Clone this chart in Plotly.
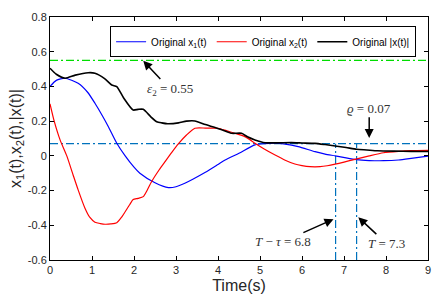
import plotly.graph_objects as go

# ---------------- data ----------------
t_x1 = [0, 0.15, 0.36, 0.67, 0.9, 1.07, 1.25, 1.39, 1.59, 1.79, 2.0, 2.14, 2.5, 2.82, 3.0, 3.21, 3.4,
        3.7, 4.0, 4.17, 4.5, 4.88, 5.1, 5.36, 5.6, 5.91, 6.31, 6.55, 6.79, 7.05, 7.3, 7.6, 7.94, 8.3, 8.6, 9.0]
x1 = [0.40, 0.435, 0.447, 0.418, 0.365, 0.303, 0.23, 0.168, 0.073, 0.0, -0.065, -0.10, -0.155, -0.183,
      -0.178, -0.158, -0.135, -0.095, -0.05, -0.024, 0.015, 0.063, 0.07, 0.073, 0.068, 0.053, 0.024, 0.01,
      0.0, -0.012, -0.022, -0.027, -0.028, -0.024, -0.015, -0.002]

t_x2 = [0, 0.1, 0.24, 0.4, 0.55, 0.67, 0.83, 0.95, 1.07, 1.2, 1.31, 1.45, 1.59, 1.7, 1.79, 1.9, 1.98,
        2.1, 2.22, 2.32, 2.42, 2.6, 2.74, 2.9, 3.06, 3.25, 3.45, 3.7, 4.0, 4.2, 4.4, 4.6, 4.75, 4.88, 5.1,
        5.36, 5.6, 5.83, 6.0, 6.19, 6.43, 6.6, 6.79, 7.0, 7.26, 7.6, 7.94, 8.3, 8.6, 9.0]
x2 = [0.30, 0.20, 0.092, 0.0, -0.11, -0.196, -0.30, -0.355, -0.382, -0.39, -0.394, -0.392, -0.385,
      -0.355, -0.322, -0.28, -0.252, -0.245, -0.235, -0.195, -0.148, -0.08, -0.033, 0.02, 0.07, 0.12,
      0.159, 0.16, 0.159, 0.145, 0.13, 0.115, 0.095, 0.073, 0.04, 0.005, -0.025, -0.047, -0.056, -0.062,
      -0.062, -0.057, -0.048, -0.036, -0.02, 0.0, 0.018, 0.026, 0.03, 0.032]

t_xn = [0, 0.15, 0.36, 0.6, 0.91, 1.07, 1.3, 1.47, 1.59, 1.75, 1.98, 2.1, 2.22, 2.4, 2.54, 2.66, 2.8,
        3.06, 3.25, 3.45, 3.7, 3.93, 4.15, 4.33, 4.56, 4.7, 4.88, 5.12, 5.4, 5.75, 6.0, 6.31, 6.55, 6.79,
        7.05, 7.3, 7.54, 7.8, 8.2, 8.6, 9.0]
xn = [0.505, 0.47, 0.447, 0.465, 0.479, 0.476, 0.445, 0.408, 0.399, 0.335, 0.264, 0.268, 0.268, 0.225,
      0.197, 0.19, 0.185, 0.19, 0.2, 0.201, 0.18, 0.163, 0.145, 0.13, 0.13, 0.11, 0.092, 0.076, 0.075,
      0.076, 0.074, 0.072, 0.065, 0.057, 0.048, 0.038, 0.034, 0.029, 0.027, 0.026, 0.025]

eps2 = 0.55
rho = 0.07
T_minus_tau = 6.8
T_end = 7.3

x_range = [0, 9]
y_range = [-0.6, 0.8]
x_ticks = [0, 1, 2, 3, 4, 5, 6, 7, 8, 9]
x_ticklabels = ["0", "1", "2", "3", "4", "5", "6", "7", "8", "9"]
y_ticks = [-0.6, -0.4, -0.2, 0, 0.2, 0.4, 0.6, 0.8]
y_ticklabels = ["-0.6", "-0.4", "-0.2", "0", "0.2", "0.4", "0.6", "0.8"]

# annotation: label text, label centre (x, y), arrow head (x, y)
ann_texts = ["<i>ε</i><sub>2</sub> = 0.55", "<i>ϱ</i> = 0.07", "<i>T</i> − <i>τ</i> = 6.8", "<i>T</i> = 7.3"]
ann_label_x = [2.85, 7.6, 5.55, 8.0]
ann_label_y = [0.385, 0.275, -0.494, -0.503]
ann_head_x = [2.22, 7.6, 6.75, 7.34]
ann_head_y = [0.548, 0.103, -0.365, -0.354]

# ---------------- figure ----------------
fig = go.Figure()

DASHDOT = "8px,3px,2px,3px"
REFBLUE = "#0072BD"

fig.add_trace(go.Scatter(x=x_range, y=[eps2, eps2], mode="lines", showlegend=False,
                         line=dict(color="#00DD00", width=1.2, dash=DASHDOT), hoverinfo="skip"))
fig.add_trace(go.Scatter(x=x_range, y=[rho, rho], mode="lines", showlegend=False,
                         line=dict(color=REFBLUE, width=1.2, dash=DASHDOT), hoverinfo="skip"))
fig.add_trace(go.Scatter(x=[T_minus_tau, T_minus_tau], y=[y_range[0], rho], mode="lines", showlegend=False,
                         line=dict(color=REFBLUE, width=1.2, dash=DASHDOT), hoverinfo="skip"))
fig.add_trace(go.Scatter(x=[T_end, T_end], y=[y_range[0], rho], mode="lines", showlegend=False,
                         line=dict(color=REFBLUE, width=1.2, dash=DASHDOT), hoverinfo="skip"))

fig.add_trace(go.Scatter(x=t_x1, y=x1, mode="lines", name="Original x<sub>1</sub>(t)",
                         line=dict(color="#0000FF", width=1.2, shape="spline", smoothing=0.6)))
fig.add_trace(go.Scatter(x=t_x2, y=x2, mode="lines", name="Original x<sub>2</sub>(t)",
                         line=dict(color="#FF0000", width=1.2, shape="spline", smoothing=0.6)))
fig.add_trace(go.Scatter(x=t_xn, y=xn, mode="lines", name="Original |x(t)|",
                         line=dict(color="#000000", width=1.6, shape="spline", smoothing=0.6)))

serif = dict(family="Liberation Serif, DejaVu Serif, serif", size=13, color="#333333")

for txt, lx, ly, hx, hy in zip(ann_texts, ann_label_x, ann_label_y, ann_head_x, ann_head_y):
    fig.add_annotation(x=hx, y=hy, ax=lx, ay=ly, xref="x", yref="y", axref="x", ayref="y",
                       text=txt, font=serif, showarrow=True, arrowhead=2, arrowsize=1.2,
                       arrowwidth=1.5, arrowcolor="black", startstandoff=0)

axis_common = dict(showline=True, linecolor="black", linewidth=1, mirror="ticks", ticks="inside",
                   ticklen=4, tickcolor="black", showgrid=False, zeroline=False, automargin=False,
                   tickfont=dict(family="Arial, Liberation Sans, sans-serif", size=11, color="#262626"))

fig.update_xaxes(range=x_range, tickvals=x_ticks, ticktext=x_ticklabels,
                 title=dict(text="Time(s)", font=dict(family="Arial, Liberation Sans, sans-serif",
                                                      size=16, color="#262626"), standoff=4),
                 **axis_common)
fig.update_yaxes(range=y_range, tickvals=y_ticks, ticktext=y_ticklabels,
                 title=dict(text="x<sub>1</sub>(t),x<sub>2</sub>(t),|x(t)|",
                            font=dict(family="Arial, Liberation Sans, sans-serif", size=16, color="#262626"),
                            standoff=2),
                 **axis_common)

fig.update_layout(
    width=442, height=296,
    margin=dict(l=50, r=14, t=17, b=36),
    plot_bgcolor="white", paper_bgcolor="white",
    showlegend=True,
    legend=dict(orientation="h", x=0.159, y=0.962, xanchor="left", yanchor="top",
                bgcolor="white", bordercolor="black", borderwidth=1,
                font=dict(family="Arial, Liberation Sans, sans-serif", size=10, color="black"),
                itemwidth=30, tracegroupgap=0),
)

fig.write_html("out.html", config={"displayModeBar": False},
               post_script="document.body.style.margin='0';document.body.style.padding='0';")
